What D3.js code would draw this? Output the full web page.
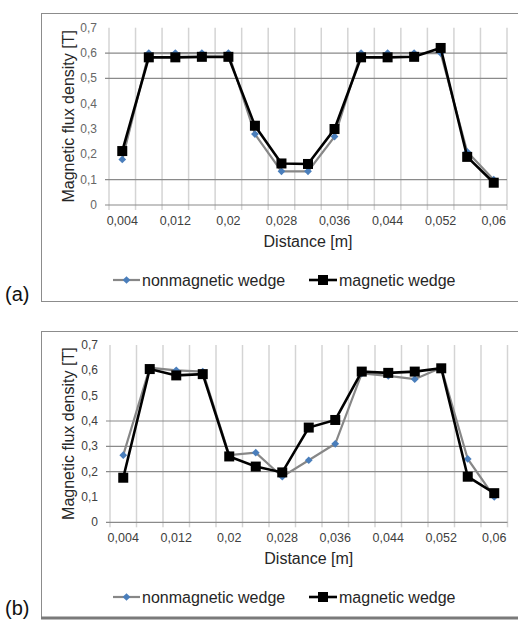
<!DOCTYPE html>
<html lang="en">
<head>
<meta charset="UTF-8">
<title>Magnetic flux density</title>
<script src="https://d3js.org/d3.v7.min.js"></script>
<style>
    body { margin: 0; background: #fff; }
    svg { display: block; font-family: "Liberation Sans", Arial, sans-serif; }
</style>
</head>
<body>
<svg id="viz" width="518" height="621"></svg>
<script>
// categories (distance in m)
const distance = [0.004, 0.008, 0.012, 0.016, 0.02, 0.024, 0.028, 0.032, 0.036, 0.04, 0.044, 0.048, 0.052, 0.056, 0.06];
const yTicks = [0, 0.1, 0.2, 0.3, 0.4, 0.5, 0.6, 0.7];
const seriesNames = ["nonmagnetic wedge", "magnetic wedge"];

// panel (a)
const nonmagA = [0.18, 0.60, 0.60, 0.60, 0.60, 0.28, 0.133, 0.133, 0.27, 0.60, 0.60, 0.60, 0.60, 0.21, 0.10];
const magA    = [0.213, 0.583, 0.583, 0.585, 0.585, 0.313, 0.164, 0.162, 0.30, 0.583, 0.583, 0.585, 0.62, 0.19, 0.088];

// panel (b)
const nonmagB = [0.265, 0.61, 0.60, 0.595, 0.265, 0.275, 0.18, 0.245, 0.31, 0.588, 0.578, 0.565, 0.61, 0.25, 0.10];
const magB    = [0.176, 0.605, 0.58, 0.585, 0.26, 0.22, 0.197, 0.374, 0.404, 0.595, 0.59, 0.595, 0.608, 0.18, 0.115];

const svg = d3.select("#viz");
const fmt = v => String(+v.toFixed(3)).replace(".", ",");

function drawPanel(cfg) {
    const g = svg.append("g");

    // outer frame
    g.append("rect")
        .attr("x", 41.5).attr("y", cfg.frameTop + 0.5)
        .attr("width", 520).attr("height", cfg.frameBottom - cfg.frameTop)
        .attr("fill", "none").attr("stroke", "#8c8c8c").attr("stroke-width", 1);
    if (cfg.thickBottom) {
        g.append("line")
            .attr("x1", 41).attr("x2", 518)
            .attr("y1", cfg.frameBottom + 1).attr("y2", cfg.frameBottom + 1)
            .attr("stroke", "#7a7a7a").attr("stroke-width", 3);
    }

    g.append("text")
        .attr("x", 5).attr("y", cfg.labelY)
        .attr("font-size", 20).attr("fill", "#111")
        .text(cfg.label);

    const x = d3.scaleBand().domain(distance).range([cfg.left, cfg.right]);
    const y = d3.scaleLinear().domain([0, 0.7]).range([cfg.bottom, cfg.top]);

    // vertical gridlines at category boundaries
    const bounds = distance.map(d => x(d)).concat([cfg.right]);
    g.selectAll(".vgrid").data(bounds).enter().append("line")
        .attr("x1", d => d).attr("x2", d => d)
        .attr("y1", cfg.top).attr("y2", cfg.bottom + 5)
        .attr("stroke", "#d4d4d4").attr("stroke-width", 1.5);

    // horizontal gridlines
    g.selectAll(".hgrid").data(cfg.hGrid).enter().append("line")
        .attr("x1", cfg.left - 4).attr("x2", cfg.right)
        .attr("y1", d => y(d)).attr("y2", d => y(d))
        .attr("stroke", "#8a8a8a").attr("stroke-width", 1.2);

    // x axis line
    g.append("line")
        .attr("x1", cfg.left - 4).attr("x2", cfg.right)
        .attr("y1", cfg.bottom).attr("y2", cfg.bottom)
        .attr("stroke", "#8a8a8a").attr("stroke-width", 1.2);

    // y tick labels
    g.selectAll(".ytick").data(yTicks).enter().append("text")
        .attr("x", cfg.left - 12).attr("y", d => y(d) + 4)
        .attr("text-anchor", "end").attr("font-size", 12)
        .attr("fill", cfg.tickColor)
        .text(d => fmt(d));

    // x tick labels, every other category
    g.selectAll(".xtick").data(distance.filter((d, i) => i % 2 === 0)).enter().append("text")
        .attr("x", d => x(d) + x.bandwidth() / 2).attr("y", cfg.bottom + 20)
        .attr("text-anchor", "middle").attr("font-size", 12.5)
        .attr("fill", "#404040")
        .text(d => fmt(d));

    // axis titles
    g.append("text")
        .attr("x", (cfg.left + cfg.right) / 2).attr("y", cfg.bottom + 42)
        .attr("text-anchor", "middle").attr("font-size", 16).attr("fill", "#262626")
        .text("Distance [m]");
    g.append("text")
        .attr("transform", `translate(74,${(cfg.top + cfg.bottom) / 2}) rotate(-90)`)
        .attr("text-anchor", "middle").attr("font-size", 16).attr("fill", "#262626")
        .text("Magnetic flux density [T]");

    const cx = d => x(d) + x.bandwidth() / 2;
    const line = d3.line().x(d => cx(d[0])).y(d => y(d[1]));
    const diamond = d3.symbol().type(d3.symbolDiamond2).size(38);

    // nonmagnetic series
    const s1 = distance.map((d, i) => [d, cfg.nonmag[i]]);
    g.append("path").datum(s1).attr("d", line)
        .attr("fill", "none").attr("stroke", "#878787").attr("stroke-width", 2.2);
    g.selectAll(".m1").data(s1).enter().append("path")
        .attr("d", diamond)
        .attr("transform", d => `translate(${cx(d[0])},${y(d[1])})`)
        .attr("fill", "#4a7ebb");

    // magnetic series
    const s2 = distance.map((d, i) => [d, cfg.mag[i]]);
    g.append("path").datum(s2).attr("d", line)
        .attr("fill", "none").attr("stroke", "#000").attr("stroke-width", 2.6);
    g.selectAll(".m2").data(s2).enter().append("rect")
        .attr("x", d => cx(d[0]) - 5).attr("y", d => y(d[1]) - 5)
        .attr("width", 10).attr("height", 10)
        .attr("fill", "#000");

    // legend
    const ly = cfg.legendY;
    g.append("line").attr("x1", 113).attr("x2", 140).attr("y1", ly).attr("y2", ly)
        .attr("stroke", "#878787").attr("stroke-width", 2.2);
    g.append("path").attr("d", diamond).attr("transform", `translate(126.5,${ly})`).attr("fill", "#4a7ebb");
    g.append("text").attr("x", 142).attr("y", ly + 5.5)
        .attr("font-size", 16).attr("fill", "#262626").text(seriesNames[0]);

    g.append("line").attr("x1", 309).attr("x2", 337).attr("y1", ly).attr("y2", ly)
        .attr("stroke", "#000").attr("stroke-width", 2.6);
    g.append("rect").attr("x", 318).attr("y", ly - 5).attr("width", 10).attr("height", 10).attr("fill", "#000");
    g.append("text").attr("x", 339).attr("y", ly + 5.5)
        .attr("font-size", 16).attr("fill", "#262626").text(seriesNames[1]);
}

drawPanel({
    label: "(a)", labelY: 301,
    frameTop: 13, frameBottom: 301, thickBottom: false,
    left: 109, right: 507, top: 27.7, bottom: 205,
    hGrid: [0.1, 0.5, 0.6], tickColor: "#666",
    nonmag: nonmagA, mag: magA, legendY: 280
});

drawPanel({
    label: "(b)", labelY: 615,
    frameTop: 331, frameBottom: 617, thickBottom: true,
    left: 110, right: 507.5, top: 345, bottom: 522.3,
    hGrid: [0.2, 0.3, 0.4], tickColor: "#404040",
    nonmag: nonmagB, mag: magB, legendY: 597
});
</script>
</body>
</html>
